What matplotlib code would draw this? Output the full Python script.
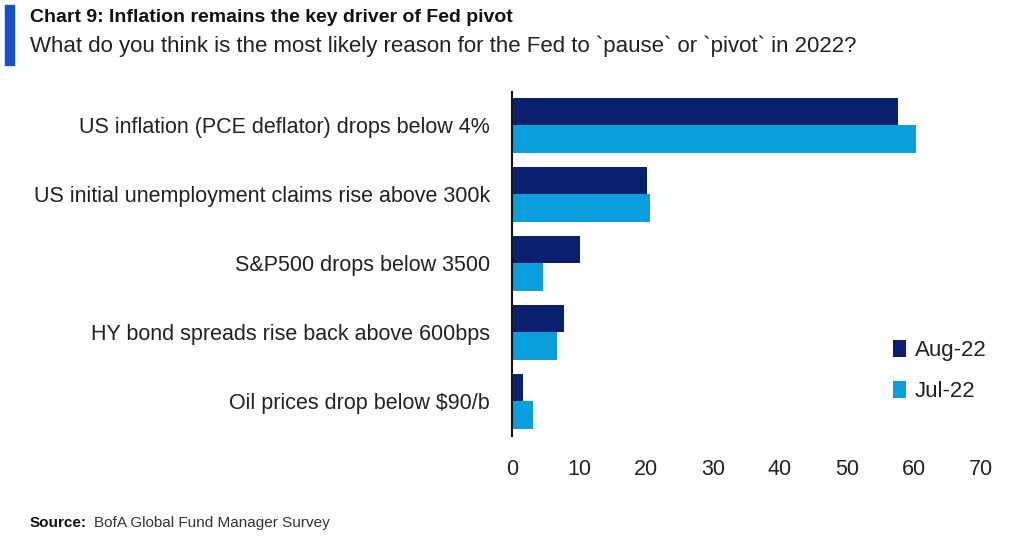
import numpy as np
import matplotlib.pyplot as plt
from matplotlib.patches import Rectangle

plt.rcParams['font.family'] = ['Liberation Sans Narrow', 'Liberation Sans', 'DejaVu Sans']

# data
categories = ['US inflation (PCE deflator) drops below 4%',
              'US initial unemployment claims rise above 300k',
              'S&P500 drops below 3500',
              'HY bond spreads rise back above 600bps',
              'Oil prices drop below $90/b']
aug22 = [57.6, 20.1, 10.2, 7.8, 1.6]
jul22 = [60.3, 20.6, 4.7, 6.7, 3.1]
xticks = [0, 10, 20, 30, 40, 50, 60, 70]

dark = '#0b1f6f'
light = '#0a9fdc'

fig = plt.figure(figsize=(10.24, 5.38), dpi=100)
ax = fig.add_axes([0.5, 0.19, 0.458, 0.639])

y = np.arange(len(categories))
h = 0.4
ax.barh(y - h / 2, aug22, height=h, color=dark, label='Aug-22')
ax.barh(y + h / 2, jul22, height=h, color=light, label='Jul-22')

ax.set_ylim(4.5, -0.48)
ax.set_xlim(0, 70)
ax.set_xticks(xticks)
ax.set_yticks(y)
ax.set_yticklabels(categories)
ax.tick_params(axis='y', length=0, pad=16, labelsize=15.5, labelcolor='#222222')
ax.tick_params(axis='x', length=0, pad=17, labelsize=15.5, labelcolor='#222222')
for s in ['top', 'right', 'bottom']:
    ax.spines[s].set_visible(False)
ax.spines['left'].set_linewidth(1.5)
ax.spines['left'].set_color('#111111')

leg = ax.legend(loc='lower right', bbox_to_anchor=(1.055, 0.04), frameon=False,
                fontsize=16, handlelength=0.6, handleheight=0.8, handletextpad=0.4,
                labelspacing=0.9)
for t in leg.get_texts():
    t.set_color('#222222')

# title block
fig.patches.append(Rectangle((0.005, 0.88), 0.009, 0.11, transform=fig.transFigure,
                             color='#1552c8', zorder=5))
fig.text(0.029, 0.967, 'Chart 9: Inflation remains the key driver of Fed pivot',
         fontsize=14, fontweight='bold', va='center', color='#111111')
fig.text(0.029, 0.914, 'What do you think is the most likely reason for the Fed to `pause` or `pivot` in 2022?',
         fontsize=16, va='center', color='#222222')

fig.text(0.029, 0.028, 'Source:', fontsize=11, fontweight='bold', va='center', color='#111111')
fig.text(0.092, 0.028, 'BofA Global Fund Manager Survey', fontsize=11, va='center', color='#333333')

fig.savefig('out.png', dpi=100)
